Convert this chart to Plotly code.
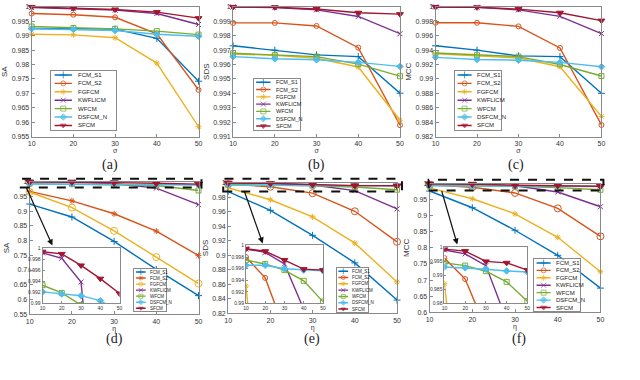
import plotly.graph_objects as go

W, H = 640, 380

methods = ['FCM_S1', 'FCM_S2', 'FGFCM', 'KWFLICM', 'WFCM', 'DSFCM_N', 'SFCM']
colors = ['#0072BD', '#D95319', '#EDB120', '#7E2F8E', '#77AC30', '#4DBEEE', '#A2142F']

sigma = [10, 20, 30, 40, 50]
eta = [10, 20, 30, 40, 50]

# top row: noise level sigma
sa_sigma = {
    'FCM_S1': [0.9925, 0.9924, 0.9923, 0.9891, 0.9742],
    'FCM_S2': [0.9977, 0.9973, 0.9964, 0.9907, 0.9712],
    'FGFCM': [0.9905, 0.9903, 0.9893, 0.9805, 0.9584],
    'KWFLICM': [0.9998, 0.9994, 0.9989, 0.9977, 0.9939],
    'WFCM': [0.9932, 0.9927, 0.9924, 0.9916, 0.9904],
    'DSFCM_N': [0.9924, 0.9922, 0.9918, 0.9905, 0.9898],
    'SFCM': [1.0, 0.99955, 0.9991, 0.9982, 0.9961],
}
sds_sigma = {
    'FCM_S1': [0.9973, 0.9970, 0.99667, 0.99655, 0.99401],
    'FCM_S2': [0.99889, 0.99889, 0.99868, 0.99717, 0.99179],
    'FGFCM': [0.99673, 0.99664, 0.99644, 0.99583, 0.99213],
    'KWFLICM': [1.0, 0.99995, 0.9998, 0.99934, 0.99814],
    'WFCM': [0.99678, 0.99667, 0.99655, 0.99603, 0.99519],
    'DSFCM_N': [0.99655, 0.99640, 0.99633, 0.99615, 0.99587],
    'SFCM': [1.0, 0.99998, 0.99986, 0.9996, 0.9995],
}
mcc_sigma = {
    'FCM_S1': [0.9946, 0.9940, 0.9932, 0.9931, 0.9880],
    'FCM_S2': [0.9978, 0.9978, 0.9973, 0.9943, 0.9836],
    'FGFCM': [0.9935, 0.9932, 0.9929, 0.9917, 0.9848],
    'KWFLICM': [1.0, 0.99995, 0.9996, 0.9987, 0.9963],
    'WFCM': [0.9936, 0.9933, 0.9931, 0.9920, 0.9904],
    'DSFCM_N': [0.9930, 0.9927, 0.9926, 0.9923, 0.9917],
    'SFCM': [1.0, 0.99995, 0.9997, 0.9992, 0.9981],
}

# bottom row: eta
sa_eta = {
    'FCM_S1': [0.924, 0.880, 0.797, 0.702, 0.613],
    'FCM_S2': [0.967, 0.935, 0.891, 0.832, 0.749],
    'FGFCM': [0.965, 0.912, 0.833, 0.744, 0.654],
    'KWFLICM': [0.9992, 0.9982, 0.9939, 0.978, 0.922],
    'WFCM': [0.9933, 0.9919, 0.9897, 0.987, 0.970],
    'DSFCM_N': [0.9921, 0.9917, 0.9914, 0.9905, 0.9885],
    'SFCM': [0.9994, 0.9990, 0.9969, 0.9945, 0.9918],
}
sds_eta = {
    'FCM_S1': [0.9877, 0.9619, 0.9274, 0.8894, 0.8381],
    'FCM_S2': [0.9980, 0.9944, 0.9855, 0.9605, 0.9184],
    'FGFCM': [0.9930, 0.9764, 0.9528, 0.9166, 0.8631],
    'KWFLICM': [0.9994, 0.9988, 0.9968, 0.989, 0.9637],
    'WFCM': [0.99748, 0.9968, 0.99574, 0.9939, 0.9903],
    'DSFCM_N': [0.99658, 0.99658, 0.99597, 0.99574, 0.99563],
    'SFCM': [0.99944, 0.9990, 0.99748, 0.99591, 0.99574],
}
mcc_eta = {
    'FCM_S1': [0.977, 0.925, 0.855, 0.777, 0.675],
    'FCM_S2': [0.9962, 0.9887, 0.971, 0.923, 0.836],
    'FGFCM': [0.987, 0.953, 0.906, 0.833, 0.726],
    'KWFLICM': [0.9991, 0.9977, 0.9935, 0.974, 0.928],
    'WFCM': [0.9945, 0.9935, 0.9915, 0.9877, 0.9808],
    'DSFCM_N': [0.9930, 0.9927, 0.9922, 0.9916, 0.9912],
    'SFCM': [0.9994, 0.9987, 0.9950, 0.9945, 0.9919],
}

x_ticks = [10, 20, 30, 40, 50]
yticks_a = [0.955, 0.96, 0.965, 0.97, 0.975, 0.98, 0.985, 0.99, 0.995, 1]
yticks_b = [0.991, 0.992, 0.993, 0.994, 0.995, 0.996, 0.997, 0.998, 0.999, 1]
yticks_c = [0.982, 0.984, 0.986, 0.988, 0.99, 0.992, 0.994, 0.996, 0.998, 1]
yticks_d = [0.55, 0.6, 0.65, 0.7, 0.75, 0.8, 0.85, 0.9, 0.95, 1]
yticks_e = [0.82, 0.84, 0.86, 0.88, 0.9, 0.92, 0.94, 0.96, 0.98, 1]
yticks_f = [0.6, 0.65, 0.7, 0.75, 0.8, 0.85, 0.9, 0.95, 1]
yticks_in_de = [0.99, 0.992, 0.994, 0.996, 0.998, 1]
yticks_in_f = [0.98, 0.985, 0.99, 0.995, 1]

sym_top = ['cross-thin-open', 'circle-open', 'asterisk-open', 'x-thin-open',
           'square-open', 'diamond', 'triangle-down']
sym_d = ['cross-thin-open', 'asterisk-open', 'circle-open', 'x-thin-open',
         'square-open', 'diamond', 'triangle-down']

FONT = 'Liberation Sans, Arial, sans-serif'


def px_x(p):
    return p / W


def px_y(p):
    return 1 - p / H


# panel: data, x, y range, ticks, ytitle, xtitle, symbols, pixel box (l, r, t, b), label pos
panels = [
    (sa_sigma, sigma, [0.955, 1.0], yticks_a, 'SA', 'σ', sym_top, (28, 197, 3, 135), (107, 164)),
    (sds_sigma, sigma, [0.991, 1.0], yticks_b, 'SDS', 'σ', sym_top, (232, 401, 3, 135), (316, 164)),
    (mcc_sigma, sigma, [0.982, 1.0], yticks_c, 'MCC', 'σ', sym_top, (437, 605, 3, 135), (518, 164)),
    (sa_eta, eta, [0.55, 1.0], yticks_d, 'SA', 'η', sym_d, (26, 197, 181, 316), (112, 341)),
    (sds_eta, eta, [0.82, 1.0], yticks_e, 'SDS', 'η', sym_top, (227, 398, 182, 315), (312, 341)),
    (mcc_eta, eta, [0.6, 1.0], yticks_f, 'MCC', 'η', sym_top, (431, 604, 183, 314), (522, 341)),
]

# insets for the bottom row: main panel index, y range, ticks, pixel box
insets = [
    (3, [0.99, 1.0], yticks_in_de, (39, 117, 249, 305)),
    (4, [0.99, 1.0], yticks_in_de, (245, 323, 246, 305)),
    (5, [0.98, 1.0], yticks_in_f, (446, 530, 248, 305)),
]

# legend boxes: pixel box, font size, line end fraction
legends = [
    ((48, 113, 68, 128), 6, 0.32),
    ((253, 300, 76, 128), 5.5, 0.36),
    ((457, 503, 68, 128), 6, 0.36),
    ((132, 164, 270, 313), 4.5, 0.36),
    ((337, 369, 269, 314), 4.5, 0.36),
    ((537, 583, 260, 313), 6, 0.36),
]

# dashed zoom frames (pixel box) and arrows (tail -> head)
frames = [(17, 200, 178, 187), (222, 403, 178, 191), (430, 607, 179, 190)]
arrows = [((22, 186), (49, 246)), ((243, 190), (262, 244)), ((443, 190), (459, 245))]

fig = go.Figure()
layout = dict(width=W, height=H, margin=dict(l=0, r=0, t=0, b=0),
              paper_bgcolor='white', plot_bgcolor='rgba(0,0,0,0)',
              showlegend=False, font=dict(family=FONT, color='#333'))
shapes = []
annotations = []

axis_common = dict(showline=True, mirror=True, linecolor='#8a8a8a', linewidth=1,
                   ticks='inside', tickcolor='#8a8a8a', ticklen=3, showgrid=False,
                   zeroline=False, fixedrange=True)


def tick_text(vals):
    return [f'{v:g}' for v in vals]


for k, (data, xs, yr, yt, ytitle, xtitle, syms, box, lab) in enumerate(panels):
    n = k + 1
    sx = '' if n == 1 else str(n)
    l, r, t, b = box
    layout['xaxis' + sx] = dict(axis_common, domain=[px_x(l), px_x(r)], range=[10, 50],
                                anchor='y' + sx, tickvals=x_ticks, ticktext=tick_text(x_ticks),
                                tickfont=dict(size=7), title=dict(text=xtitle, font=dict(size=7), standoff=0))
    layout['yaxis' + sx] = dict(axis_common, domain=[px_y(b), px_y(t)], range=yr,
                                anchor='x' + sx, tickvals=yt, ticktext=tick_text(yt),
                                tickfont=dict(size=7), title=dict(text=ytitle, font=dict(size=8), standoff=2))
    big = n >= 4
    for i, m in enumerate(methods):
        sym = syms[i]
        size = 5
        if sym == 'triangle-down':
            size = 7 if big else 6
        elif sym == 'circle-open' and big:
            size = 7
        fig.add_trace(go.Scatter(
            x=xs, y=data[m], mode='lines+markers', name=m, xaxis='x' + sx, yaxis='y' + sx,
            line=dict(color=colors[i], width=1.4), cliponaxis=False,
            marker=dict(symbol=sym, size=size, color=colors[i], line=dict(color=colors[i], width=1))))
    annotations.append(dict(text='(' + 'abcdef'[k] + ')', x=px_x(lab[0]), y=px_y(lab[1]),
                            xref='paper', yref='paper', xanchor='center', yanchor='middle',
                            showarrow=False,
                            font=dict(family='Liberation Serif, DejaVu Serif, serif', size=14, color='#222')))

for j, (pi, yr, yt, box) in enumerate(insets):
    n = 7 + j
    data, xs, _, _, _, _, syms, _, _ = panels[pi]
    l, r, t, b = box
    layout['xaxis%d' % n] = dict(axis_common, domain=[px_x(l), px_x(r)], range=[10, 50],
                                 anchor='y%d' % n, tickvals=x_ticks, ticktext=tick_text(x_ticks),
                                 tickfont=dict(size=5), ticklen=2)
    layout['yaxis%d' % n] = dict(axis_common, domain=[px_y(b), px_y(t)], range=yr,
                                 anchor='x%d' % n, tickvals=yt, ticktext=tick_text(yt),
                                 tickfont=dict(size=5), ticklen=2)
    shapes.append(dict(type='rect', xref='x%d' % n, yref='y%d' % n, x0=10, x1=50, y0=yr[0], y1=yr[1],
                       fillcolor='white', line=dict(width=0), layer='below'))
    for i, m in enumerate(methods):
        sym = syms[i]
        size = 6 if sym == 'triangle-down' else 5
        fig.add_trace(go.Scatter(
            x=xs, y=data[m], mode='lines+markers', name=m, xaxis='x%d' % n, yaxis='y%d' % n,
            line=dict(color=colors[i], width=1.4),
            marker=dict(symbol=sym, size=size, color=colors[i], line=dict(color=colors[i], width=1))))

for k, (box, fsize, frac) in enumerate(legends):
    n = 10 + k
    l, r, t, b = box
    syms = panels[k][6]
    layout['xaxis%d' % n] = dict(domain=[px_x(l), px_x(r)], range=[0, 1], anchor='y%d' % n,
                                 showline=True, mirror=True, linecolor='#8a8a8a', linewidth=1,
                                 showticklabels=False, ticks='', showgrid=False, zeroline=False,
                                 fixedrange=True)
    layout['yaxis%d' % n] = dict(domain=[px_y(b), px_y(t)], range=[0, 7], anchor='x%d' % n,
                                 showline=True, mirror=True, linecolor='#8a8a8a', linewidth=1,
                                 showticklabels=False, ticks='', showgrid=False, zeroline=False,
                                 fixedrange=True)
    shapes.append(dict(type='rect', xref='x%d' % n, yref='y%d' % n, x0=0, x1=1, y0=0, y1=7,
                       fillcolor='white', line=dict(width=0), layer='below'))
    for i, m in enumerate(methods):
        yy = 6.5 - i
        sym = syms[i]
        fig.add_trace(go.Scatter(
            x=[0.05, (0.05 + frac) / 2, frac], y=[yy, yy, yy], mode='lines+markers',
            xaxis='x%d' % n, yaxis='y%d' % n, line=dict(color=colors[i], width=1.4),
            marker=dict(symbol=sym, size=[0, 5 if fsize > 5 else 4, 0], color=colors[i],
                        line=dict(color=colors[i], width=1))))
        annotations.append(dict(text=m, x=frac + 0.07, y=yy, xref='x%d' % n, yref='y%d' % n,
                                xanchor='left', yanchor='middle', showarrow=False,
                                font=dict(size=fsize, color='#222')))

for (l, r, t, b) in frames:
    shapes.append(dict(type='rect', xref='paper', yref='paper', x0=px_x(l), x1=px_x(r),
                       y0=px_y(b), y1=px_y(t), line=dict(color='#111', width=2, dash='dash'),
                       layer='above'))

for (tail, head) in arrows:
    annotations.append(dict(text='', x=px_x(head[0]), y=px_y(head[1]), xref='paper', yref='paper',
                            ax=tail[0] - head[0], ay=tail[1] - head[1], showarrow=True,
                            arrowhead=2, arrowsize=1, arrowwidth=1.2, arrowcolor='#111'))

layout['shapes'] = shapes
layout['annotations'] = annotations
fig.update_layout(**layout)

# drop the default page margin so the figure sits at the window corner
fig.write_html('out.html', config={'displayModeBar': False},
               post_script="document.body.style.margin='0';")
